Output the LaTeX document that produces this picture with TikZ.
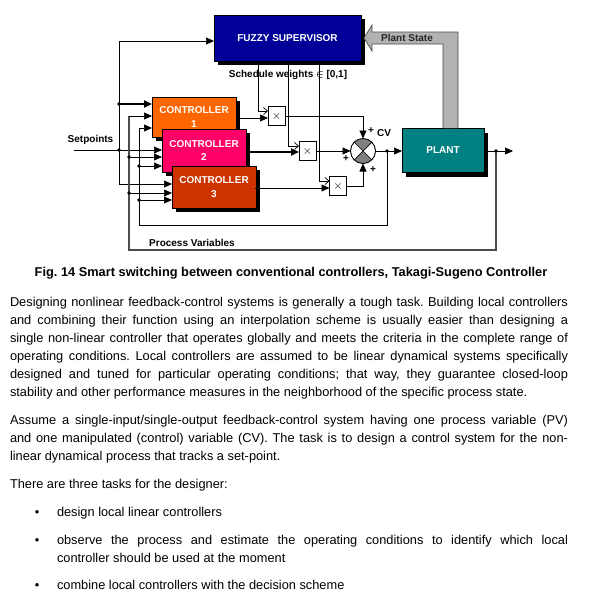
\documentclass[tikz,border=0pt]{standalone}
\usepackage{fontspec}
\setmainfont{Liberation Sans}
\usetikzlibrary{arrows.meta}
\definecolor{fuzzyblue}{RGB}{0,0,153}
\definecolor{ctrlA}{RGB}{255,102,0}
\definecolor{ctrlB}{RGB}{255,0,102}
\definecolor{ctrlC}{RGB}{204,51,0}
\definecolor{plantcol}{RGB}{0,128,128}
\definecolor{arrowgray}{RGB}{178,178,178}
\definecolor{wedgegray}{RGB}{128,128,128}
\newcommand\jline[1]{\makebox[558pt][s]{#1}}
\newcommand\bline[1]{\makebox[511pt][s]{#1}}
\frenchspacing
\begin{document}
\begin{tikzpicture}[x=1pt,y=-1pt,
  every node/.style={inner sep=0pt,outer sep=0pt},
  boxshadow/.style={preaction={fill=black,transform canvas={xshift=4pt,yshift=-4pt}}},
  ctrl/.style={boxshadow,draw=black,line width=0.5pt,minimum width=84pt,text=white,
    font=\fontsize{10}{13.5}\selectfont\bfseries,align=center},
  mult/.style={draw,fill=white,line width=0.6pt,minimum width=17pt,minimum height=19pt,
    font=\fontsize{13}{13}\selectfont},
  wire/.style={line width=0.7pt},
  thickwire/.style={line width=1.8pt},
  pvwire/.style={line width=1.4pt,draw=black!70},
  arr/.style={-{Triangle[length=8pt,width=7pt]}},
  warr/.style={-{Straight Barb[length=4pt,width=7pt]}},
  lbl/.style={font=\fontsize{10}{12}\selectfont\bfseries},
  body/.style={font=\fontsize{12.8}{18}\selectfont,anchor=base west},
  dotr/.style={radius=1.8pt}]

\fill[white] (0,0) rectangle (593,597);
\useasboundingbox (0,0) rectangle (593,597);

% ---------- blocks ----------
\node[boxshadow,draw=black,line width=0.5pt,fill=fuzzyblue,minimum width=147pt,minimum height=46pt,
  text=white,font=\fontsize{10}{12}\selectfont\bfseries] (fuzzy) at (287.5,38) {FUZZY SUPERVISOR};
\node[boxshadow,draw=black,line width=0.5pt,fill=plantcol,minimum width=82pt,minimum height=44pt,
  text=white,font=\fontsize{10}{12}\selectfont\bfseries] (plant) at (443,150.5) {PLANT};

\node[ctrl,fill=ctrlA,minimum height=40pt] (c1) at (194,117) {CONTROLLER\\1};
\node[ctrl,fill=ctrlB,minimum height=43pt] (c2) at (204,150.5) {CONTROLLER\\2};
\node[ctrl,fill=ctrlC,minimum height=42pt] (c3) at (214,187) {CONTROLLER\\3};

\node[mult] (m1) at (276.5,116) {$\times$};
\node[mult] (m2) at (307.5,151) {$\times$};
\node[mult] (m3) at (338,186) {$\times$};

\node[circle,draw,fill=white,minimum size=25pt] (sum) at (363,151) {};
\begin{scope}
  \clip (sum.center) circle[radius=12.5pt];
  \fill[wedgegray] (sum.center) -- ([shift={(-20pt,20pt)}]sum.center) -- ([shift={(20pt,20pt)}]sum.center) -- cycle;
  \fill[wedgegray] (sum.center) -- ([shift={(-20pt,-20pt)}]sum.center) -- ([shift={(20pt,-20pt)}]sum.center) -- cycle;
\end{scope}
\draw[line width=0.7pt] (sum.45) -- (sum.225) (sum.135) -- (sum.315);
\draw[line width=0.8pt] (sum.center) circle[radius=12.5pt];

% Plant State block arrow
\draw[fill=arrowgray,draw=black!70,line width=0.7pt]
  (458,128) -- (458,32) -- (372,32) -- (372,25) -- (364,38) -- (372,51) -- (372,44) -- (443,44) -- (443,128);
\node[lbl,text=black!85] (pstate) at (407,38) {Plant State};

% ---------- coordinates ----------
\coordinate (spin) at (74,150);
\coordinate (spT) at (119,41);
\coordinate (spJ1) at (119,104);
\coordinate (spJ2) at (119,150);
\coordinate (spB) at (119,184);

\coordinate (pvT) at (129,116);
\coordinate (pv2) at (129,157);
\coordinate (pv3) at (129,193);
\coordinate (pvB) at (129,250);
\coordinate (pvD) at (496,151);
\coordinate (pvC) at (496,250);

\coordinate (cvT) at (139,128);
\coordinate (cv2) at (139,166);
\coordinate (cv3) at (139,200);
\coordinate (cvB) at (139,225);
\coordinate (cvD) at (387,151);
\coordinate (cvC) at (387,225);

\coordinate (o1) at (236,118);
\coordinate (o2) at (246,152);
\coordinate (o3) at (255,188);

\coordinate (w1) at (258,111);
\coordinate (w2) at (288,146);
\coordinate (w3) at (319,181);

\coordinate (pend) at (513,151);

% ---------- wires ----------
% setpoints
\draw[wire,arr] (spin) -- (spin -| c2.west);
\draw[wire,arr] (spB) -- (spT) -- (spT -| fuzzy.west);
\draw[thickwire,arr] (spJ1) -- (spJ1 -| c1.west);
\draw[wire,arr] (spB) -- (spB -| c3.west);
\fill (spJ1) circle[dotr];
\fill (spJ2) circle[dotr];

% process variables
\draw[pvwire] (pvD) -- (pvC) -- (pvB) -- (pvT);
\draw[wire,arr] (pvT) -- (pvT -| c1.west);
\draw[wire,arr] (pv2) -- (pv2 -| c2.west);
\draw[wire,arr] (pv3) -- (pv3 -| c3.west);
\fill (pv2) circle[dotr];
\fill (pv3) circle[dotr];

% control variable feedback
\draw[wire] (cvD) -- (cvC) -- (cvB) -- (cvT);
\draw[wire,arr] (cvT) -- (cvT -| c1.west);
\draw[wire,arr] (cv2) -- (cv2 -| c2.west);
\draw[wire,arr] (cv3) -- (cv3 -| c3.west);
\fill (cv2) circle[dotr];
\fill (cv3) circle[dotr];

% controller outputs
\draw[wire,arr] (o1) -- (o1 -| m1.west);
\draw[thickwire,arr] (o2) -- (o2 -| m2.west);
\draw[wire,arr] (o3) -- (o3 -| m3.west);

% schedule weights
\draw[wire,warr] (w1 |- fuzzy.south) -- (w1) -- (w1 -| m1.west);
\draw[wire,warr] (w2 |- fuzzy.south) -- (w2) -- (w2 -| m2.west);
\draw[wire,warr] (w3 |- fuzzy.south) -- (w3) -- (w3 -| m3.west);

% multipliers to sum
\draw[wire,arr] (m1.east) -- (m1.east -| sum.north) -- (sum.north);
\draw[wire,arr] (m2.east) -- (m2.east -| sum.west);
\draw[wire,arr] (m3.east) -- (m3.east -| sum.south) -- (sum.south);

% sum to plant, plant output
\draw[wire,arr] (sum.east) -- (sum.east -| plant.west);
\fill (cvD) circle[dotr];
\draw[wire,arr] (pend -| plant.east) -- (pend);
\fill (pvD) circle[dotr];

% ---------- labels ----------
\node[lbl] (sched) at (288,75) {Schedule weights {\boldmath$\in$} [0,1]};
\node[lbl] (setp) at (90.5,140) {Setpoints};
\node[lbl] (procv) at (192,243) {Process Variables};
\node[lbl] (cvl) at (384,133) {CV};
\node[lbl] (p1) at (371,131) {+};
\node[lbl] (p2) at (346,159) {+};
\node[lbl] (p3) at (373,170) {+};

% ---------- caption and text ----------
\node[font=\fontsize{12.8}{15}\selectfont\bfseries,anchor=base] (cap) at (291,276.5)
  {Fig. 14 Smart switching between conventional controllers, Takagi-Sugeno Controller};

\node[body] (t1) at (10,306) {\jline{Designing nonlinear feedback-control systems is generally a tough task. Building local controllers}};
\node[body] (t2) at (10,324) {\jline{and combining their function using an interpolation scheme is usually easier than designing a}};
\node[body] (t3) at (10,342) {\jline{single non-linear controller that operates globally and meets the criteria in the complete range of}};
\node[body] (t4) at (10,360) {\jline{operating conditions. Local controllers are assumed to be linear dynamical systems specifically}};
\node[body] (t5) at (10,378) {\jline{designed and tuned for particular operating conditions; that way, they guarantee closed-loop}};
\node[body] (t6) at (10,396) {stability and other performance measures in the neighborhood of the specific process state.};

\node[body] (t7) at (10,424) {\jline{Assume a single-input/single-output feedback-control system having one process variable (PV)}};
\node[body] (t8) at (10,442) {\jline{and one manipulated (control) variable (CV). The task is to design a control system for the non-}};
\node[body] (t9) at (10,460) {linear dynamical process that tracks a set-point.};

\node[body] (t10) at (10,488) {There are three tasks for the designer:};

\node[body,anchor=base] (b1) at (37,516) {•};
\node[body] (t11) at (57,516) {design local linear controllers};
\node[body,anchor=base] (b2) at (37,544) {•};
\node[body] (t12) at (57,544) {\bline{observe the process and estimate the operating conditions to identify which local}};
\node[body] (t13) at (57,562) {controller should be used at the moment};
\node[body,anchor=base] (b3) at (37,589) {•};
\node[body] (t14) at (57,589) {combine local controllers with the decision scheme};
\end{tikzpicture}
\end{document}
